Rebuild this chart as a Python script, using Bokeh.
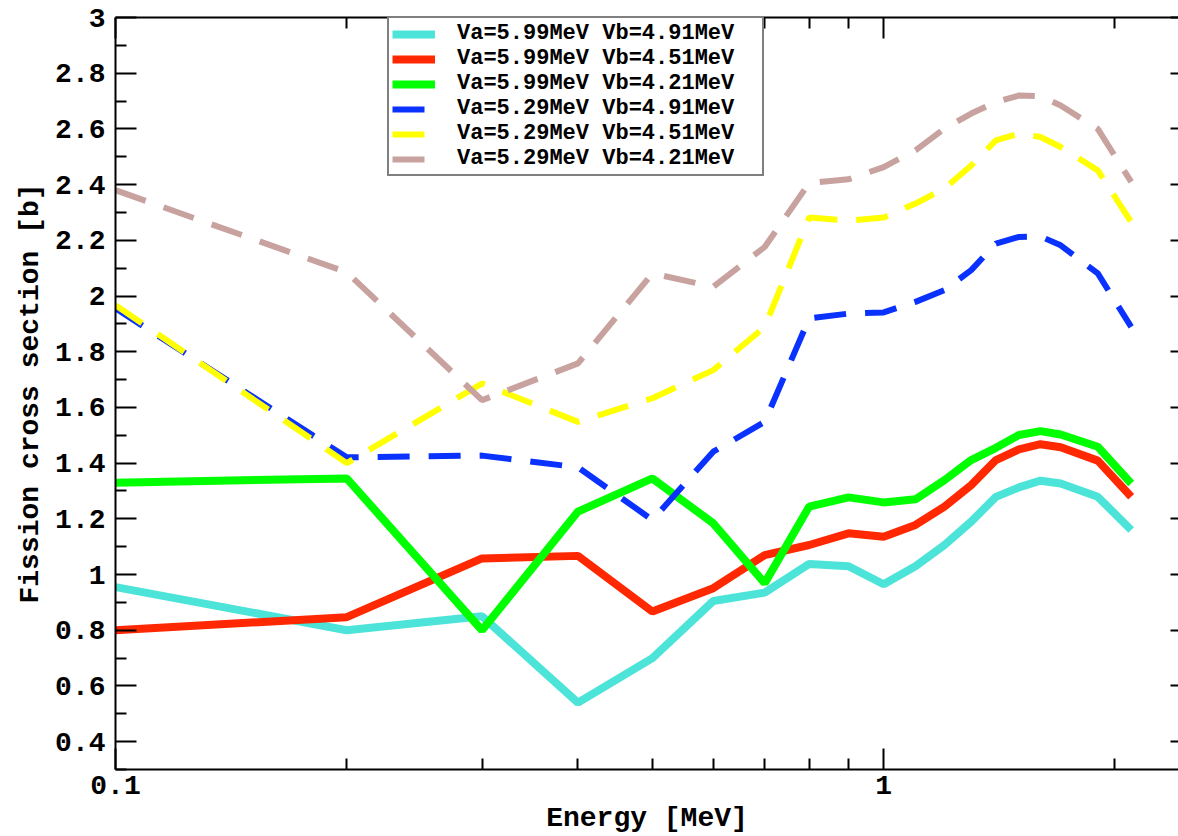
from bokeh.plotting import figure
from bokeh.models import FixedTicker, LinearAxis, LogAxis, Legend, LegendItem
from bokeh.embed import file_html
from bokeh.resources import INLINE

# ---------------- data ----------------
energy = [0.1, 0.2, 0.3, 0.4, 0.5, 0.6, 0.7, 0.8, 0.9, 1.0,
          1.1, 1.2, 1.3, 1.4, 1.5, 1.6, 1.7, 1.9, 2.1]

s_599_491 = [0.955, 0.80, 0.85, 0.54, 0.70, 0.905, 0.935, 1.038, 1.03, 0.965,
             1.03, 1.106, 1.19, 1.279, 1.313, 1.337, 1.327, 1.279, 1.16]
s_599_451 = [0.80, 0.847, 1.058, 1.067, 0.867, 0.951, 1.07, 1.106, 1.148, 1.136,
             1.178, 1.244, 1.321, 1.411, 1.449, 1.468, 1.457, 1.409, 1.279]
s_599_421 = [1.33, 1.345, 0.80, 1.226, 1.345, 1.184, 0.969, 1.244, 1.277, 1.259,
             1.27, 1.339, 1.411, 1.455, 1.501, 1.515, 1.503, 1.459, 1.327]
s_529_491 = [1.956, 1.421, 1.427, 1.385, 1.196, 1.441, 1.548, 1.92, 1.937, 1.941,
             1.979, 2.021, 2.093, 2.188, 2.212, 2.214, 2.182, 2.081, 1.889]
s_529_451 = [1.967, 1.40, 1.686, 1.548, 1.633, 1.734, 1.889, 2.282, 2.270, 2.282,
             2.332, 2.386, 2.469, 2.559, 2.583, 2.571, 2.535, 2.451, 2.266]
s_529_421 = [2.38, 2.085, 1.626, 1.758, 2.081, 2.033, 2.176, 2.406, 2.419, 2.463,
             2.523, 2.601, 2.655, 2.696, 2.72, 2.717, 2.684, 2.60, 2.41]

series_names = ["Va=5.99MeV Vb=4.91MeV", "Va=5.99MeV Vb=4.51MeV", "Va=5.99MeV Vb=4.21MeV",
                "Va=5.29MeV Vb=4.91MeV", "Va=5.29MeV Vb=4.51MeV", "Va=5.29MeV Vb=4.21MeV"]
series_values = [s_599_491, s_599_451, s_599_421, s_529_491, s_529_451, s_529_421]
series_colors = ["#4CE4D8", "#FF2800", "#00FF00", "#0A32FF", "#FFFF00", "#C8A29F"]
series_dashed = [False, False, False, True, True, True]

y_tick_labels = ["0.4", "0.6", "0.8", "1", "1.2", "1.4", "1.6", "1.8", "2",
                 "2.2", "2.4", "2.6", "2.8", "3"]
y_minor_labels = ["0.3", "0.5", "0.7", "0.9", "1.1", "1.3", "1.5", "1.7", "1.9",
                  "2.1", "2.3", "2.5", "2.7", "2.9"]
x_tick_labels = ["0.1", "1"]
x_minor_labels = ["0.2", "0.3", "0.4", "0.5", "0.6", "0.7", "0.8", "0.9", "2"]

y_ticks = [float(s) for s in y_tick_labels]
y_minor = [float(s) for s in y_minor_labels]
x_ticks = [float(s) for s in x_tick_labels]
x_minor = [float(s) for s in x_minor_labels]

FONT = "Liberation Mono"

p = figure(width=1178, height=836, x_axis_type="log",
           x_range=(0.1, 2.42), y_range=(0.3, 3.0),
           output_backend="svg", toolbar_location=None,
           min_border_left=115, min_border_right=0, min_border_top=17, min_border_bottom=66)
p.outline_line_color = None
p.xgrid.visible = False
p.ygrid.visible = False
p.background_fill_color = "white"
p.border_fill_color = "white"

items = []
for name, vals, col, dashed in zip(series_names, series_values, series_colors, series_dashed):
    if dashed:
        r = p.line(energy, vals, line_color=col, line_width=6, line_dash="32 19")
    else:
        r = p.line(energy, vals, line_color=col, line_width=8)
    items.append(LegendItem(label=name, renderers=[r]))


def style_axis(ax, labels=True):
    ax.axis_line_color = "black"
    ax.axis_line_width = 2
    ax.major_tick_line_color = "black"
    ax.major_tick_line_width = 2
    ax.minor_tick_line_color = "black"
    ax.minor_tick_line_width = 2
    ax.major_tick_in = 21
    ax.major_tick_out = 0
    ax.minor_tick_in = 11
    ax.minor_tick_out = 0
    ax.major_label_text_font = FONT
    ax.major_label_text_font_style = "bold"
    ax.major_label_text_color = "black"
    ax.axis_label_text_font = FONT
    ax.axis_label_text_font_style = "bold"
    ax.axis_label_text_color = "black"
    ax.axis_label_text_font_size = "28px"
    if labels:
        ax.major_label_text_font_size = "28px"
    else:
        ax.major_label_text_font_size = "0px"
        ax.major_label_standoff = 0


# bottom axis
xa = p.xaxis[0]
xa.ticker = FixedTicker(ticks=x_ticks, minor_ticks=x_minor)
xa.major_label_overrides = {v: s for v, s in zip(x_ticks, x_tick_labels)}
style_axis(xa)
xa.axis_label = "Energy [MeV]"
xa.major_label_standoff = 6
xa.axis_label_standoff = 6

# left axis
ya = p.yaxis[0]
ya.ticker = FixedTicker(ticks=y_ticks, minor_ticks=y_minor)
ya.major_label_overrides = {v: s for v, s in zip(y_ticks, y_tick_labels)}
style_axis(ya)
ya.axis_label = "Fission cross section [b]"
ya.major_label_standoff = 10
ya.axis_label_standoff = 6

# top axis
ta = LogAxis(ticker=FixedTicker(ticks=x_ticks, minor_ticks=x_minor))
style_axis(ta, labels=False)
ta.major_label_overrides = {v: "" for v in x_ticks}
p.add_layout(ta, "above")

# right axis (frame edge lies at page edge: only short tick stubs visible)
ra = LinearAxis(ticker=FixedTicker(ticks=y_ticks, minor_ticks=[]))
style_axis(ra, labels=False)
ra.major_label_overrides = {v: "" for v in y_ticks}
ra.axis_line_color = None
ra.major_tick_in = 8
ra.minor_tick_line_color = None
p.add_layout(ra, "right")

legend = Legend(items=items, location=(272, 593))
legend.label_text_font = FONT
legend.label_text_font_style = "bold"
legend.label_text_font_size = "22px"
legend.label_text_color = "black"
legend.glyph_width = 43
legend.glyph_height = 24
legend.label_height = 24
legend.label_width = 302
legend.label_standoff = 22
legend.padding = 3
legend.spacing = 0
legend.margin = 0
legend.border_line_color = "black"
legend.border_line_width = 2
legend.background_fill_alpha = 1.0
p.add_layout(legend, "center")

open("out.html", "w").write(file_html(p, INLINE))
